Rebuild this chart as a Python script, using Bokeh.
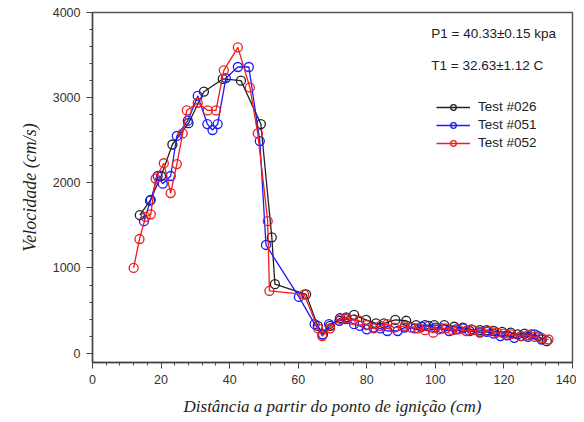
from bokeh.plotting import figure
from bokeh.models import FixedTicker, Legend, LegendItem, Label, Range1d
from bokeh.embed import file_html
from bokeh.resources import INLINE

# ---- data ----
x026 = [13.8, 16.8, 20.0, 23.3, 28.0, 32.5, 38.0, 43.3, 49.1, 52.3, 53.2, 62.3, 65.7, 67.2, 69.3,
        72.2, 74.0, 76.3, 79.8, 82.7, 85.0, 88.3, 91.5, 94.4, 97.0, 99.7, 102.6, 105.5, 108.0,
        110.5, 113.0, 115.0, 117.0, 119.5, 122.0, 124.0, 126.0, 128.0, 130.0, 132.5]
y026 = [1620, 1790, 2080, 2450, 2700, 3070, 3220, 3200, 2690, 1360, 810, 690, 320, 220, 320,
        410, 420, 450, 390, 350, 350, 390, 380, 330, 330, 330, 330, 310, 300,
        280, 270, 270, 260, 250, 240, 220, 230, 220, 200, 140]

x051 = [15.0, 17.0, 19.0, 20.5, 22.8, 24.6, 27.8, 30.7, 33.5, 35.0, 36.5, 38.9, 42.4, 45.6, 48.8,
        50.6, 60.2, 64.8, 67.1, 69.0, 72.0, 74.0, 76.3, 78.0, 80.0, 82.0, 84.0, 86.0, 89.0, 91.0,
        94.0, 96.0, 98.0, 100.0, 102.0, 104.0, 106.0, 108.0, 110.0, 113.0, 115.0, 117.0, 119.0,
        121.0, 123.0, 125.0, 127.0, 129.0, 131.0]
y051 = [1550, 1800, 2080, 1990, 2080, 2550, 2730, 3020, 2690, 2620, 2690, 3230, 3360, 3360, 2490,
        1270, 660, 340, 220, 340, 380, 400, 340, 320, 280, 300, 290, 260, 260, 300,
        290, 310, 320, 300, 290, 260, 280, 290, 260, 240, 250, 230, 200,
        210, 180, 200, 190, 220, 160]

x052 = [12.0, 13.7, 15.5, 17.0, 18.4, 20.8, 22.8, 24.6, 26.3, 27.5, 30.7, 33.6, 36.0, 38.3, 42.4,
        45.9, 48.2, 51.1, 51.6, 61.7, 65.8, 67.0, 69.3, 72.5, 74.0, 76.0, 77.8, 80.0, 82.0, 84.0,
        86.0, 88.0, 91.0, 93.0, 95.0, 97.0, 99.4, 101.0, 103.0, 105.0, 106.7, 109.0, 111.0, 113.0,
        115.5, 118.0, 120.0, 122.0, 125.0, 127.0, 129.0, 131.0, 133.0]
y052 = [1000, 1340, 1600, 1630, 2050, 2230, 1880, 2220, 2580, 2850, 2940, 2850, 2850, 3320, 3590,
        3120, 2580, 1550, 730, 690, 290, 200, 290, 400, 410, 390, 380, 330, 290, 320,
        340, 300, 320, 300, 290, 270, 240, 280, 290, 270, 280, 260, 270, 250,
        260, 240, 230, 220, 200, 210, 190, 180, 160]

series_names = ["Test #026", "Test #051", "Test #052"]
series_colors = ["#222222", "#1a1aff", "#ee1c1c"]

x_ticks = [0, 20, 40, 60, 80, 100, 120, 140]
y_ticks = [0, 1000, 2000, 3000, 4000]
x_minor = [v for v in range(0, 141, 4)]
y_minor = [v for v in range(0, 4001, 200)]

annot1 = "P1 = 40.33±0.15 kpa"
annot2 = "T1 = 32.63±1.12 C"

# ---- figure ----
p = figure(width=576, height=420, output_backend="svg", toolbar_location=None,
           x_range=Range1d(0, 140), y_range=Range1d(-110, 4000),
           min_border_left=92, min_border_right=4, min_border_top=12, min_border_bottom=58)
p.background_fill_color = "white"
p.border_fill_color = "white"
p.outline_line_color = "#555555"
p.outline_line_width = 1.5
p.xgrid.visible = False
p.ygrid.visible = False

for ax in (p.xaxis[0], p.yaxis[0]):
    ax.axis_line_color = "#444444"
    ax.axis_line_width = 1.3
    ax.major_tick_line_color = "#444444"
    ax.minor_tick_line_color = "#444444"
    ax.major_tick_out = 6
    ax.major_tick_in = 0
    ax.minor_tick_out = 3
    ax.minor_tick_in = 0
    ax.major_label_text_font = "Liberation Sans"
    ax.major_label_text_font_size = "12.5px"
    ax.major_label_text_color = "#333333"
    ax.axis_label_text_font = "Liberation Serif"
    ax.axis_label_text_font_style = "italic"
    ax.axis_label_text_color = "#222222"

p.xaxis.axis_label_text_font_size = "17px"
p.yaxis.axis_label_text_font_size = "18px"
p.xaxis.ticker = FixedTicker(ticks=x_ticks, minor_ticks=x_minor)
p.yaxis.ticker = FixedTicker(ticks=y_ticks, minor_ticks=y_minor)
p.xaxis.axis_label = "Distância a partir do ponto de ignição (cm)"
p.yaxis.axis_label = "Velocidade (cm/s)"
p.xaxis.major_label_standoff = 6
p.yaxis.major_label_standoff = 6
p.xaxis.axis_label_standoff = 10
p.yaxis.axis_label_standoff = 10

items = []
for xs, ys, name, col in zip([x026, x051, x052], [y026, y051, y052], series_names, series_colors):
    l = p.line(xs, ys, line_color=col, line_width=1.3)
    c = p.scatter(xs, ys, marker="circle", size=9, fill_color=None, line_color=col, line_width=1.3)
    items.append(LegendItem(label=name, renderers=[l, c]))

legend = Legend(items=items, location=(344, 212), border_line_color=None,
                background_fill_alpha=0, padding=0, margin=0, spacing=3,
                label_text_font="Liberation Sans", label_text_font_size="13.5px",
                label_text_color="#222222", glyph_width=34, glyph_height=14,
                label_height=14, label_standoff=8)
p.add_layout(legend)

for txt, yv in [(annot1, 3750), (annot2, 3375)]:
    p.add_layout(Label(x=98.8, y=yv, text=txt, text_font="Liberation Sans",
                       text_font_size="13.5px", text_color="#222222", text_baseline="middle"))

open("out.html", "w").write(file_html(p, INLINE))
